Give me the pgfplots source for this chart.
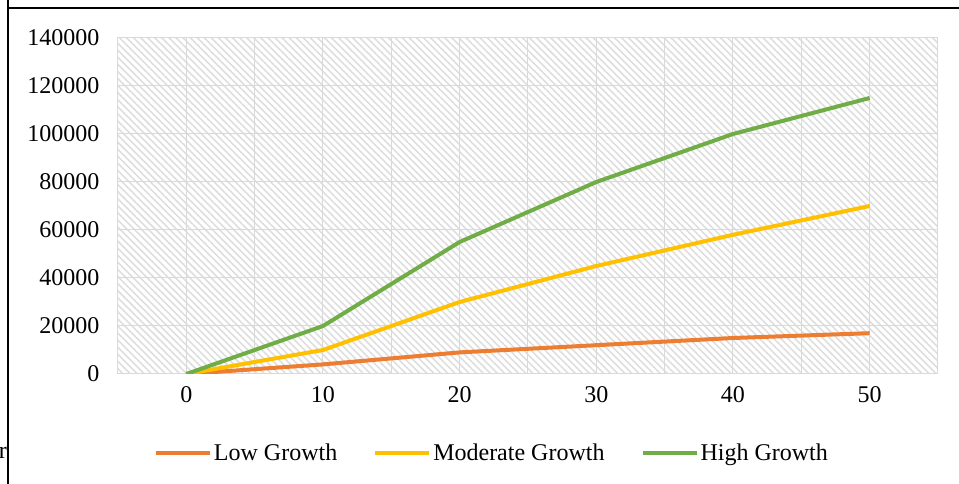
\documentclass[border=0pt]{standalone}
\usepackage{pgfplots}
\pgfplotsset{compat=1.18}
\usepackage{fontspec}
\setmainfont{Liberation Serif}
\usetikzlibrary{patterns.meta}
\definecolor{lowc}{HTML}{ED7D31}
\definecolor{modc}{HTML}{FFC000}
\definecolor{highc}{HTML}{70AD47}
\definecolor{gridc}{HTML}{D9D9D9}
\definecolor{hatchc}{HTML}{DEDEDE}
\begin{document}
\begin{tikzpicture}[x=1pt,y=1pt]
\path[use as bounding box] (0,0) rectangle (959,484);
\draw[line width=2pt,black] (8,484) -- (8,476) -- (959,476);
\draw[line width=2pt,black] (8,476) -- (8,0);
\node[anchor=east,font=\fontsize{24}{28}\selectfont,inner sep=0pt] at (7,31) {r};
\begin{axis}[
  at={(118pt,110pt)}, anchor=south west,
  scale only axis, width=820pt, height=336pt,
  xmin=-5, xmax=55, ymin=0, ymax=140000,
  xtick={0,10,20,30,40,50},
  minor xtick={-5,5,15,25,35,45,55},
  ytick={0,20000,40000,60000,80000,100000,120000,140000},
  scaled y ticks=false,
  /pgf/number format/fixed,
  /pgf/number format/precision=0,
  /pgf/number format/set thousands separator={},
  /pgf/number format/assume math mode=true,
  grid=both,
  major grid style={gridc, line width=1pt},
  minor grid style={gridc, line width=1pt},
  axis line style={gridc, line width=1pt},
  tick style={draw=none},
  major tick length=0pt, minor tick length=0pt,
  tick label style={font=\fontsize{24}{28}\selectfont, text=black},
  yticklabel style={xshift=-15pt},
  xticklabel style={yshift=-9pt},
  axis background/.style={pattern={Lines[angle=-45,distance=5pt,line width=1.6pt]}, pattern color=hatchc},
  legend style={at={(0.456,-0.235)}, anchor=center, draw=none, fill=none,
    font=\fontsize{24}{28}\selectfont, column sep=0pt,
    /tikz/every even column/.append style={column sep=34pt}},
  legend columns=-1,
  legend cell align=left,
  legend image code/.code={\draw[#1, line width=4pt] (0pt,0pt) -- (54pt,0pt);},
  every axis plot/.append style={line width=4pt, mark=none},
]
\addplot[lowc] coordinates {(0,0) (10,4000) (20,9000) (30,12000) (40,15000) (50,17000)};
\addlegendentry{Low Growth}
\addplot[modc] coordinates {(0,0) (10,10000) (20,30000) (30,45000) (40,58000) (50,70000)};
\addlegendentry{Moderate Growth}
\addplot[highc] coordinates {(0,0) (10,20000) (20,55000) (30,80000) (40,100000) (50,115000)};
\addlegendentry{High Growth}
\end{axis}
\end{tikzpicture}
\end{document}
